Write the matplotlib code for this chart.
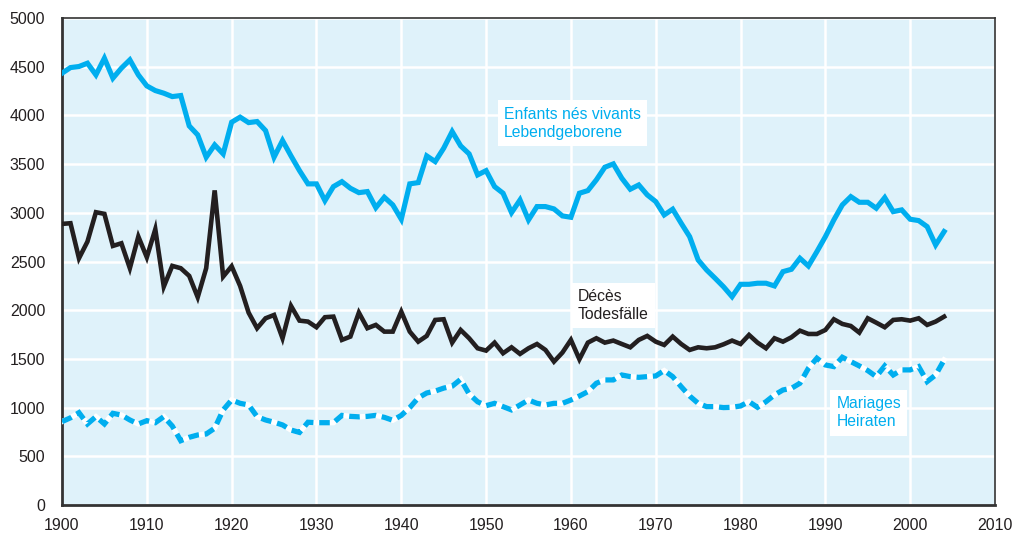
import matplotlib
matplotlib.use("Agg")
import matplotlib.pyplot as plt
from matplotlib import font_manager
import numpy as np

# ---------------- data ----------------
years = list(range(1900, 2005))

births = [4433, 4491, 4502, 4536, 4416, 4587, 4382, 4485, 4570, 4416,
          4303, 4255, 4228, 4193, 4204, 3892, 3800, 3571, 3697, 3605,
          3930, 3982, 3926, 3937, 3844, 3571, 3742, 3584, 3433, 3297,
          3297, 3125, 3269, 3320, 3252, 3207, 3218, 3053, 3160, 3081,
          2934, 3297, 3310, 3584, 3526, 3663, 3834, 3687, 3605, 3389,
          3433, 3269, 3201, 3002, 3132, 2927, 3064, 3064, 3040, 2968,
          2954, 3201, 3228, 3338, 3468, 3502, 3355, 3242, 3286, 3184,
          3115, 2978, 3037, 2893, 2755, 2516, 2413, 2328, 2240, 2139,
          2266, 2266, 2277, 2277, 2249, 2396, 2420, 2533, 2454, 2601,
          2755, 2927, 3081, 3166, 3108, 3108, 3047, 3156, 3012, 3030,
          2934, 2920, 2858, 2670, 2807]

deaths = [2886, 2893, 2533, 2704, 3006, 2989, 2660, 2687, 2431, 2756,
          2543, 2831, 2242, 2455, 2431, 2352, 2133, 2431, 3230, 2345,
          2451, 2249, 1975, 1815, 1917, 1951, 1712, 2044, 1893, 1883,
          1825, 1928, 1934, 1695, 1729, 1975, 1815, 1849, 1780, 1780,
          1985, 1780, 1677, 1736, 1900, 1907, 1667, 1797, 1712, 1609,
          1585, 1667, 1558, 1619, 1551, 1609, 1653, 1592, 1472, 1565,
          1695, 1496, 1667, 1712, 1667, 1688, 1653, 1619, 1695, 1736,
          1677, 1643, 1729, 1653, 1592, 1619, 1609, 1619, 1650, 1688,
          1653, 1746, 1667, 1609, 1712, 1677, 1722, 1790, 1756, 1756,
          1797, 1907, 1859, 1838, 1770, 1917, 1872, 1825, 1900, 1907,
          1893, 1917, 1849, 1883, 1934]

marriages = [856, 895, 948, 832, 907, 832, 941, 924, 873, 832,
             866, 845, 907, 811, 660, 695, 719, 729, 788, 976,
             1078, 1044, 1027, 907, 873, 850, 822, 770, 745, 850,
             845, 845, 845, 920, 910, 905, 910, 920, 900, 870,
             920, 1000, 1100, 1150, 1170, 1200, 1220, 1290, 1140, 1060,
             1020, 1044, 1010, 976, 1027, 1078, 1044, 1027, 1044, 1044,
             1078, 1119, 1164, 1250, 1284, 1284, 1335, 1318, 1311, 1318,
             1325, 1380, 1318, 1215, 1119, 1044, 1010, 1010, 1000, 1003,
             1017, 1061, 1003, 1061, 1130, 1181, 1198, 1250, 1404, 1507,
             1438, 1421, 1517, 1472, 1428, 1380, 1318, 1428, 1335, 1387,
             1387, 1421, 1267, 1335, 1489]

x_ticks = list(range(1900, 2011, 10))
y_ticks = list(range(0, 5001, 500))

label_births = "Enfants nés vivants\nLebendgeborene"
label_deaths = "Décès\nTodesfälle"
label_marriages = "Mariages\nHeiraten"

# ---------------- style ----------------
CYAN = "#00aeef"
BLACK = "#231f20"
BG = "#dff2fa"

names = {f.name for f in font_manager.fontManager.ttflist}
if "Liberation Sans Narrow" in names:
    FONT = "Liberation Sans Narrow"
    TICK_FS = 13.5
    LAB_FS = 13.5
else:
    FONT = "Liberation Sans"
    TICK_FS = 11.5
    LAB_FS = 11.3
plt.rcParams["font.family"] = [FONT, "DejaVu Sans"]

fig = plt.figure(figsize=(10.14, 5.36), dpi=100)
ax = fig.add_axes([62 / 1014, 1 - 505 / 536, (995 - 62) / 1014, (505 - 18) / 536])
ax.set_facecolor(BG)

ax.set_xlim(1900, 2010)
ax.set_ylim(0, 5000)
ax.set_xticks(x_ticks)
ax.set_yticks(y_ticks)
ax.grid(True, color="white", linewidth=1.8, zorder=0)
ax.set_axisbelow(True)
ax.tick_params(length=0, labelsize=TICK_FS, colors=BLACK)
ax.tick_params(axis="y", pad=12)
ax.tick_params(axis="x", pad=9)

for s in ["top", "right"]:
    ax.spines[s].set_linewidth(1.2)
    ax.spines[s].set_color("#333333")
for s in ["left", "bottom"]:
    ax.spines[s].set_linewidth(2.0)
    ax.spines[s].set_color("#333333")

# marriages: white underlay + cyan dashes
ax.plot(years, marriages, color="white", lw=3.8, solid_joinstyle="miter", zorder=3)
ax.plot(years, marriages, color=CYAN, lw=3.8, linestyle=(0, (2.0, 1.1)),
        dash_capstyle="butt", dash_joinstyle="miter", zorder=4)
ax.plot(years, deaths, color=BLACK, lw=3.3, solid_joinstyle="miter", zorder=5)
ax.plot(years, births, color=CYAN, lw=3.7, solid_joinstyle="miter", zorder=6)

box = dict(boxstyle="square,pad=0.4", fc="white", ec="none")
ax.text(1952.1, 3920, label_births, color=CYAN, fontsize=LAB_FS, va="center",
        ha="left", bbox=box, linespacing=1.25, zorder=7)
ax.text(1960.8, 2050, label_deaths, color=BLACK, fontsize=LAB_FS, va="center",
        ha="left", bbox=box, linespacing=1.25, zorder=7)
ax.text(1991.3, 945, label_marriages, color=CYAN, fontsize=LAB_FS, va="center",
        ha="left", bbox=box, linespacing=1.25, zorder=7)

fig.savefig("out.png", dpi=100)
